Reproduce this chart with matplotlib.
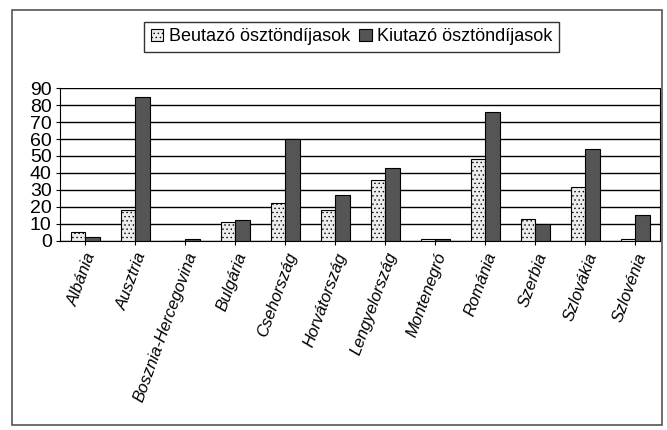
import numpy as np
import matplotlib.pyplot as plt
from matplotlib.patches import Rectangle

plt.rcParams['font.family'] = ['Liberation Sans', 'DejaVu Sans']
plt.rcParams['hatch.color'] = '#b0b0b0'
plt.rcParams['hatch.linewidth'] = 0.5

countries = ['Albánia', 'Ausztria', 'Bosznia-Hercegovina', 'Bulgária', 'Csehország',
             'Horvátország', 'Lengyelország', 'Montenegró', 'Románia', 'Szerbia',
             'Szlovákia', 'Szlovénia']
beutazo = [5, 18, 0, 11, 22, 18, 36, 1, 48, 13, 32, 1]
kiutazo = [2, 85, 1, 12, 60, 27, 43, 1, 76, 10, 54, 15]

fig = plt.figure(figsize=(6.67, 4.3), dpi=100)
ax = fig.add_axes([0.09, 0.44, 0.9, 0.355])

x = np.arange(len(countries))
w = 0.29
ax.bar(x - w / 2, beutazo, w, color='#ededed', edgecolor='black', linewidth=0.8,
       hatch='....', label='Beutazó ösztöndíjasok', zorder=3)
ax.bar(x + w / 2, kiutazo, w, color='#555555', edgecolor='black', linewidth=0.8,
       label='Kiutazó ösztöndíjasok', zorder=3)

ax.set_xlim(-0.5, len(countries) - 0.5)
ax.set_ylim(0, 90)
ax.set_yticks(range(0, 91, 10))
ax.yaxis.grid(True, color='black', linewidth=1.0, zorder=0)
ax.set_xticks(x)
ax.set_xticklabels(countries, rotation=70, ha='right', rotation_mode='anchor',
                   fontsize=12, style='italic')
ax.tick_params(axis='y', labelsize=14, length=3, pad=3)
ax.tick_params(axis='x', length=3, pad=4)
ax.spines['top'].set_visible(False)
for s in ['left', 'right', 'bottom']:
    ax.spines[s].set_color('black')

fig.legend(loc='upper center', bbox_to_anchor=(0.527, 0.97), ncol=2, fontsize=13,
           frameon=True, fancybox=False, edgecolor='black', handlelength=0.7,
           handleheight=0.7, handletextpad=0.3, columnspacing=0.5, borderpad=0.35)

fig.patches.append(Rectangle((0.018, 0.012), 0.975, 0.965, transform=fig.transFigure,
                             fill=False, edgecolor='#555555', linewidth=1.2))

fig.savefig('out.png', dpi=100)
